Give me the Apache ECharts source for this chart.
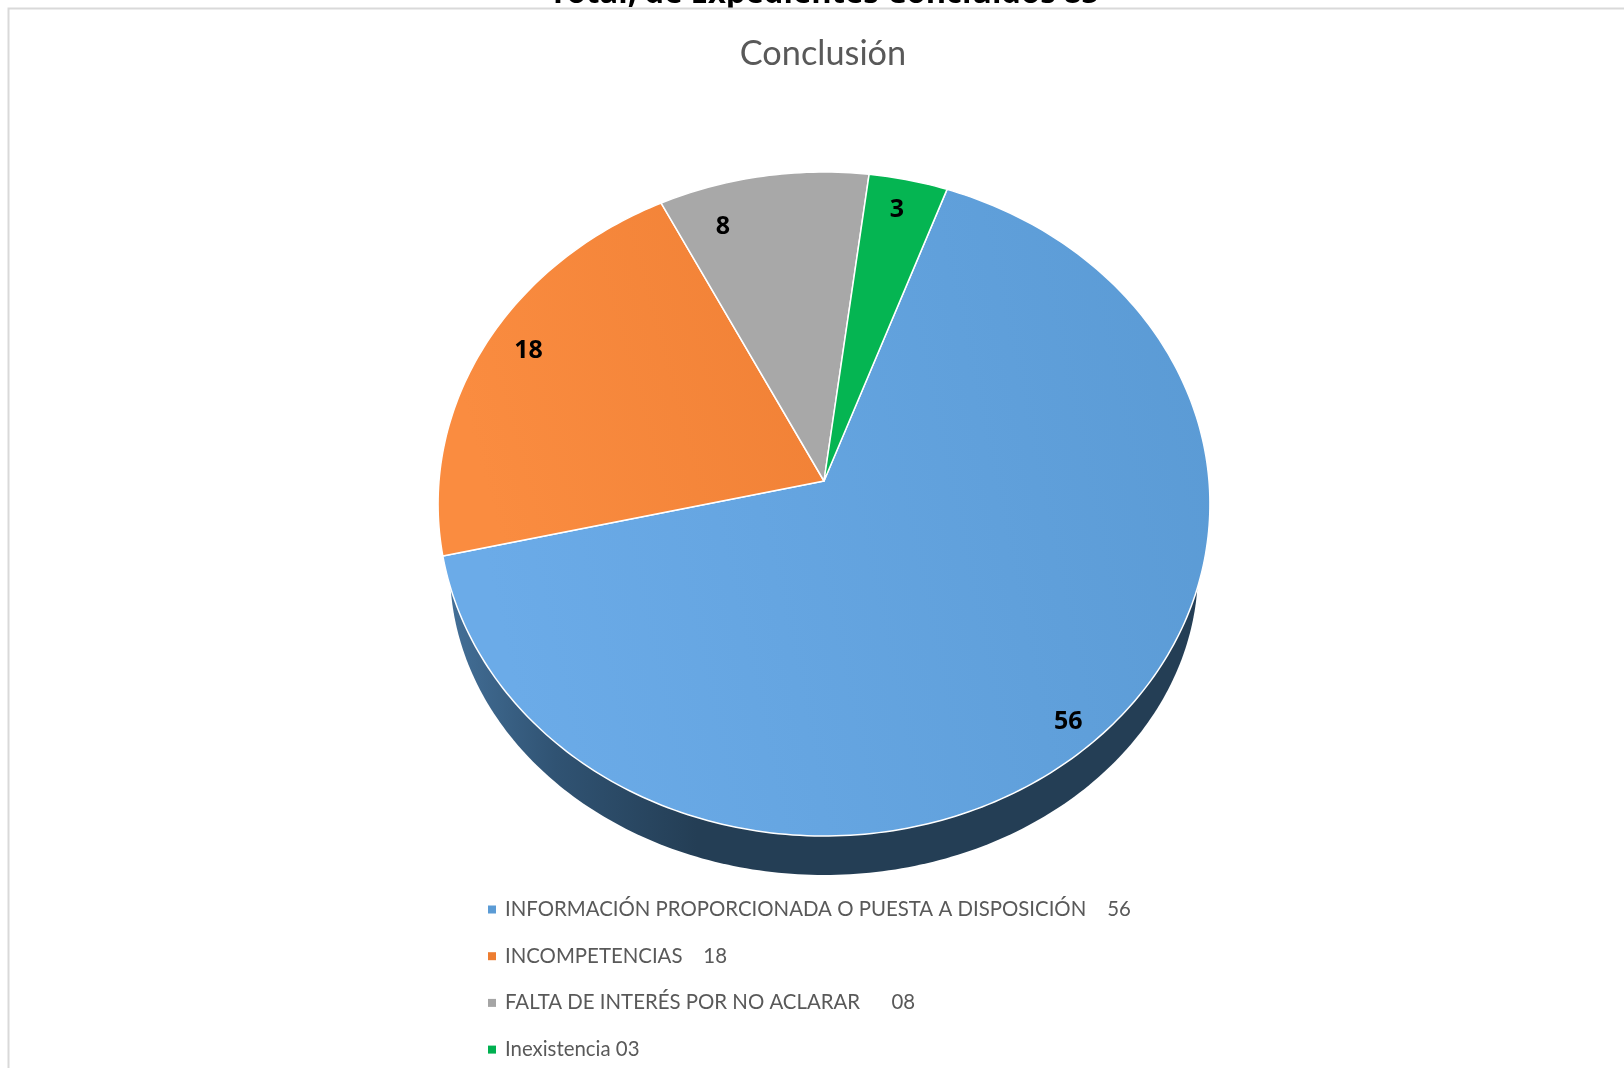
<!DOCTYPE html>
<html>
<head>
<meta charset="utf-8">
<style>html,body{margin:0;padding:0;background:#fff;overflow:hidden}#c{width:1624px;height:1068px}</style>
<script src="https://cdn.jsdelivr.net/npm/echarts@6/dist/echarts.min.js"></script>
</head>
<body>
<div id="c"></div>
<script>
const pageTitle = 'Total, de Expedientes Concluidos 85';
const chartTitle = 'Conclusión';
const categories = [
  'INFORMACIÓN PROPORCIONADA O PUESTA A DISPOSICIÓN    56',
  'INCOMPETENCIAS    18',
  'FALTA DE INTERÉS POR NO ACLARAR      08',
  'Inexistencia 03'
];
const values = [56, 18, 8, 3];
const colors = ['#5B9BD5', '#ED7D31', '#A5A5A5', '#00B050'];
const firstAngle = 19.9;
const labelPlacement = [[0.501, 0.916], [0.53, 0.89], [0.236, 0.865], [0.45, 0.899]];

const total = values.reduce((a, b) => a + b, 0);
const AX = 824, AY = 481, A = 385, B = 330.4, K = 0.0693;
function project(deg, r) {
  const t = deg * Math.PI / 180;
  const u = r * Math.sin(t), v = r * Math.cos(t), d = 1 + K * v;
  return [AX + A * u / d, AY - B * v / d];
}
const gradients = [
  new echarts.graphic.LinearGradient(0, 0.25, 1, 0, [{offset: 0, color: '#6BABE8'}, {offset: 1, color: '#5A9AD4'}]),
  new echarts.graphic.LinearGradient(0, 0.3, 1, 0, [{offset: 0, color: '#FA8C40'}, {offset: 1, color: '#F08035'}]),
  '#A8A8A8',
  '#05B552'
];
function rimPoints() {
  const pts = [];
  for (let a = 0; a < 360; a += 1) {
    const t = a * Math.PI / 180;
    pts.push([824 + 374 * Math.cos(t), 570 + 305 * Math.sin(t)]);
  }
  return pts;
}
function renderSlice(index) {
  return function (params, api) {
    const before = values.slice(0, index).reduce((a, b) => a + b, 0);
    const start = firstAngle + before / total * 360;
    const sweep = api.value(0) / total * 360;
    const pts = [[AX, AY]];
    const n = Math.max(8, Math.ceil(sweep));
    for (let i = 0; i <= n; i++) pts.push(project(start + sweep * i / n, 1));
    const place = labelPlacement[index];
    const lab = project(start + sweep * place[0], place[1]);
    const children = [];
    if (index === 0) {
      children.push({
        type: 'polygon', shape: {points: rimPoints()},
        style: {fill: new echarts.graphic.LinearGradient(0, 0, 1, 0, [
          {offset: 0, color: '#436F97'}, {offset: 0.14, color: '#305373'}, {offset: 0.33, color: '#243E55'}, {offset: 1, color: '#243E55'}
        ]), stroke: null}
      });
    }
    children.push({
      type: 'polygon', shape: {points: pts},
      style: {fill: gradients[index], stroke: '#fff', lineWidth: 1.5, lineJoin: 'round'}
    });
    children.push({
      type: 'text', z2: 20, x: lab[0], y: lab[1] + 2,
      style: {text: String(api.value(0)), fill: '#000', font: 'bold 25px "Open Sans", sans-serif', align: 'center', verticalAlign: 'middle'}
    });
    return {type: 'group', children};
  };
}
const chart = echarts.init(document.getElementById('c'), null, {renderer: 'canvas'});
chart.setOption({
  animation: false,
  backgroundColor: '#fff',
  title: {
    text: chartTitle, left: 823, top: 37, padding: 0, textAlign: 'center', z: 6,
    textStyle: {color: '#595959', fontSize: 34.3, fontWeight: 'normal', fontFamily: 'Lato, "Open Sans", sans-serif'}
  },
  legend: {
    orient: 'vertical', left: 488, top: 894.5, padding: 0, height: 300, itemWidth: 8, itemHeight: 8, itemGap: 16.7, icon: 'rect', z: 6,
    data: categories,
    textStyle: {color: '#595959', fontSize: 20.4, fontFamily: 'Lato, "Open Sans", sans-serif', lineHeight: 30, padding: [0, 0, 0, 4]}
  },
  graphic: [
    {type: 'text', x: 824, y: -6, z: 0, style: {text: pageTitle, fill: '#000', font: 'bold 31px "Open Sans", sans-serif', align: 'center', verticalAlign: 'middle'}},
    {type: 'rect', shape: {x: 0, y: 8, width: 1624, height: 1060}, z: 1, style: {fill: '#fff'}, silent: true},
    {type: 'rect', shape: {x: 8.5, y: 8.5, width: 1700, height: 1100}, z: 2, style: {fill: null, stroke: '#D9D9D9', lineWidth: 2}, silent: true}
  ],
  series: categories.map((name, i) => ({
    type: 'custom', name, coordinateSystem: 'none', z: 20,
    itemStyle: {color: colors[i]},
    data: [[values[i]]],
    encode: {value: 0},
    renderItem: renderSlice(i)
  }))
});
</script>
</body>
</html>
